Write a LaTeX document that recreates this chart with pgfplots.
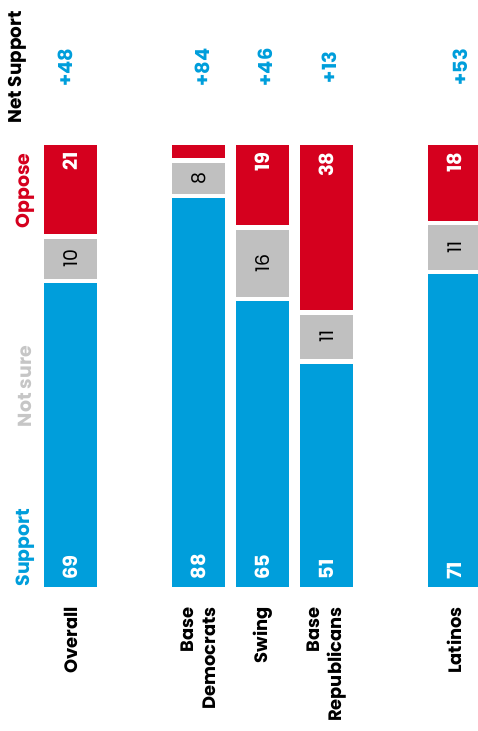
\documentclass[border=0pt]{standalone}
\usepackage{fontspec}
\setmainfont{Poppins}
\usepackage{pgfplots}
\pgfplotsset{compat=1.18}
\definecolor{supblue}{HTML}{009EDB}
\definecolor{oppred}{HTML}{D5001E}
\definecolor{nsgray}{HTML}{C0C0C0}
\definecolor{nstext}{HTML}{C6C6C6}

\tikzset{
  wv/.style={rotate=90, inner sep=0pt, text=white, font=\bfseries\fontsize{19.5}{19.5}\selectfont},
  gv/.style={rotate=90, inner sep=0pt, text=black, font=\fontsize{19}{19}\selectfont},
  nv/.style={rotate=90, inner sep=0pt, text=supblue, font=\bfseries\fontsize{19.5}{19.5}\selectfont},
  cat/.style={rotate=90, inner sep=0pt, anchor=east, align=right, font=\bfseries\fontsize{18}{22}\selectfont},
  lg/.style={rotate=90, inner sep=0pt, font=\bfseries\fontsize{19}{19}\selectfont},
}

% labels are drawn after the bars
\newcommand{\barlabels}{%
\node[wv, anchor=west] at (axis cs:0,2.2) {69};
\node[wv, anchor=west] at (axis cs:2,2.2) {88};
\node[wv, anchor=west] at (axis cs:3,2.2) {65};
\node[wv, anchor=west] at (axis cs:4,2.2) {51};
\node[wv, anchor=west] at (axis cs:6,2.2) {71};
\node[gv] at (axis cs:0,74) {10};
\node[gv] at (axis cs:2,92) {8};
\node[gv] at (axis cs:3,73) {16};
\node[gv] at (axis cs:4,56.5) {11};
\node[gv] at (axis cs:6,76.5) {11};
\node[wv, anchor=east] at (axis cs:0,97.8) {21};
\node[wv, anchor=east] at (axis cs:3,97.8) {19};
\node[wv, anchor=east] at (axis cs:4,97.8) {38};
\node[wv, anchor=east] at (axis cs:6,97.8) {18};
}

\begin{document}
\begin{tikzpicture}
\begin{axis}[
  at={(0,0)}, anchor=south west,
  scale only axis, width=478bp, height=731bp,
  xmin=-1.1016, xmax=6.367, ymin=-31.66, ymax=131.88,
  axis lines=none, ticks=none,
  ybar stacked, bar width=57.5bp,
  clip=true,
  after end axis/.code={\barlabels},
]
% support / not sure / oppose, categories at 0,2,3,4,6
\addplot[fill=supblue, draw=white, line width=4.5bp] coordinates {(0,69) (2,88) (3,65) (4,51) (6,71)};
\addplot[fill=nsgray, draw=white, line width=4.5bp] coordinates {(0,10) (2,8) (3,16) (4,11) (6,11)};
\addplot[fill=oppred, draw=white, line width=4.5bp] coordinates {(0,21) (2,4) (3,19) (4,38) (6,18)};

% net support
\node[rotate=90, inner sep=0pt, font=\bfseries\fontsize{18.5}{18.5}\selectfont] at (axis cs:-0.828,116.8) {Net Support};
\node[nv] at (axis cs:-0.086,116.8) {+48};
\node[nv] at (axis cs:2.062,116.8) {+84};
\node[nv] at (axis cs:3.047,116.8) {+46};
\node[nv] at (axis cs:4.047,116.8) {+13};
\node[nv] at (axis cs:6.094,116.8) {+53};

% legend labels
\node[lg, anchor=east, text=oppred] at (axis cs:-0.711,97.6) {Oppose};
\node[lg, text=nstext] at (axis cs:-0.719,45.4) {Not sure};
\node[lg, anchor=west, text=supblue] at (axis cs:-0.711,0.6) {Support};

% categories
\node[cat] at (axis cs:0,-3.9) {Overall};
\node[cat] at (axis cs:2,-3.9) {Base\\Democrats};
\node[cat] at (axis cs:3,-3.9) {Swing};
\node[cat] at (axis cs:4,-3.9) {Base\\Republicans};
\node[cat] at (axis cs:6,-3.9) {Latinos};
\end{axis}
\pgfresetboundingbox
\useasboundingbox (0,0) rectangle (478bp,731bp);
\end{tikzpicture}
\end{document}
